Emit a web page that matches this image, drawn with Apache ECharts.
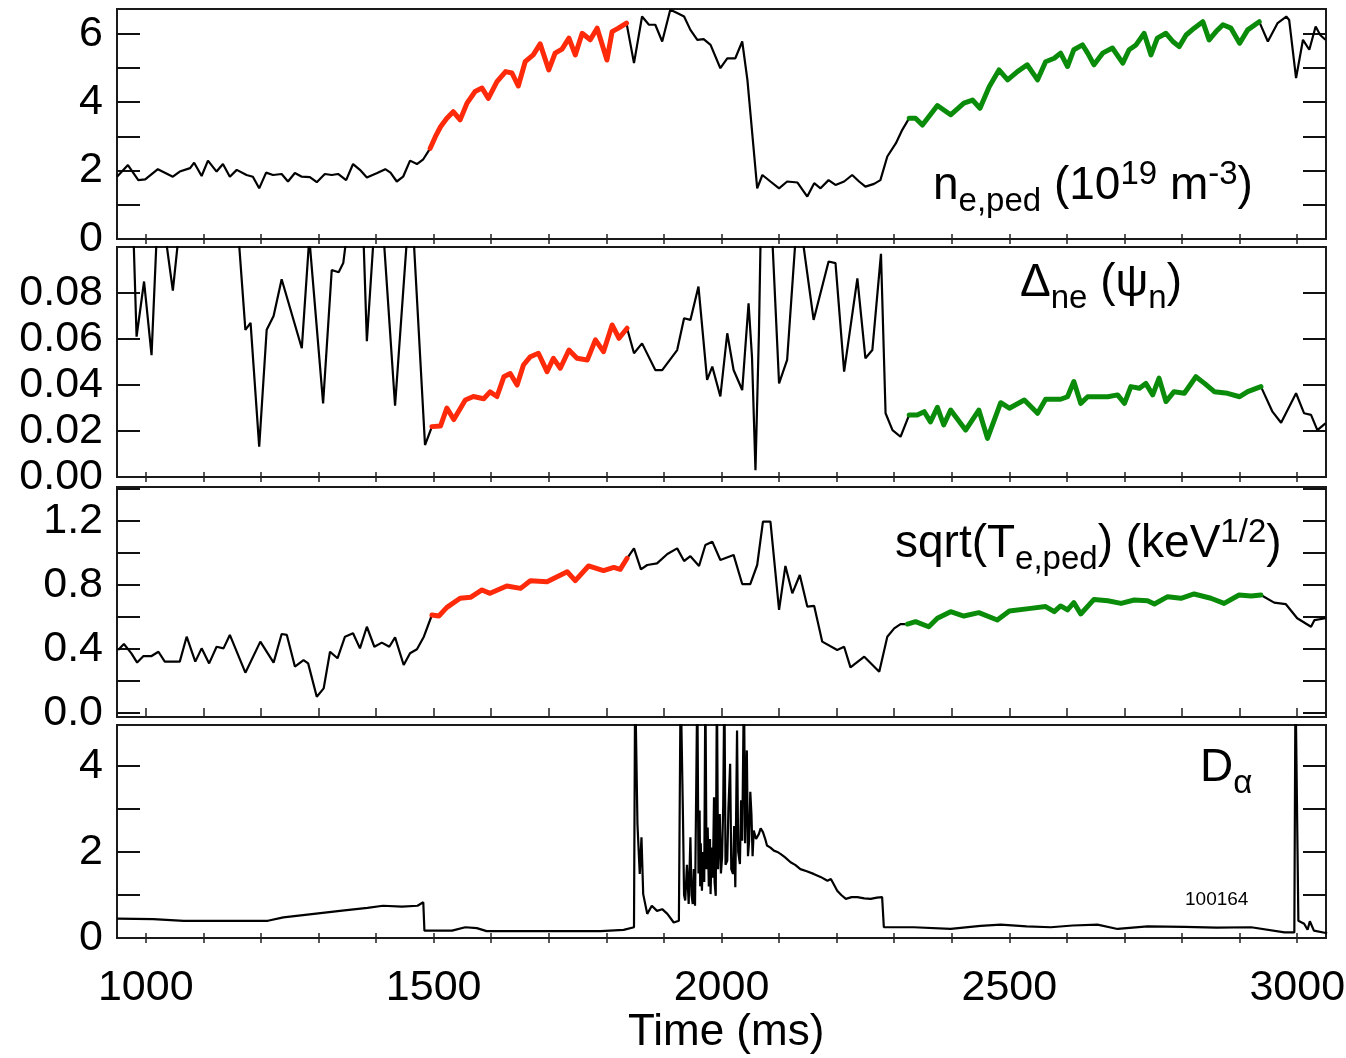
<!DOCTYPE html>
<html><head><meta charset="utf-8">
<script src="https://cdn.jsdelivr.net/npm/echarts@6/dist/echarts.min.js"></script>
<style>html,body{margin:0;padding:0;background:#fff}#c{width:1346px;height:1058px}</style>
</head><body><div id="c"></div>
<script>
// ---------- DATA ----------
// Panel 1: n_e,ped (10^19 m^-3)
const neT = [950,969,987,999,1021,1047,1059,1077,1084,1097,1108,1123,1134,1146,1158,1175,1186,1197,1209,1221,1236,1247,1259,1271,1285,1297,1311,1323,1334,1348,1360,1372,1384,1401,1416,1425,1436,1447,1459,1471,1482,
1494,1503,1512,1523,1534,1546,1558,1572,1584,1595,1610,1625,1636,1647,1659,1673,1685,1700,1711,1723,1735,1746,1758,1772,1784,1801,1810,1821,1835,
1848,1862,1874,1885,1897,1911,1923,1935,1946,1958,1969,1981,1998,2010,2024,2036,2045,2056,2062,2071,2085,2100,2114,2132,2149,2161,2172,2186,2198,2213,2227,2239,2250,2265,2276,2288,2303,2314,
2326,2337,2349,2375,2398,2421,2436,2449,2465,2482,2497,2514,2531,2549,2563,2578,2589,2601,2612,2627,2636,2647,2662,2679,2697,2708,2720,2734,2746,2757,2772,2784,2795,2807,2821,2836,2847,2859,2871,2885,2900,2914,2934,
2949,2966,2981,2986,2998,3010,3021,3032,3040,3049];
const neV = [1.82,2.16,1.72,1.74,2.04,1.82,1.97,2.07,2.23,1.84,2.29,1.97,2.19,1.82,2.02,1.87,1.82,1.48,1.94,1.87,1.90,1.68,1.93,1.82,1.81,1.66,1.90,1.87,1.90,1.72,2.19,2.02,1.80,1.92,2.04,1.94,1.68,1.82,2.29,2.19,2.33,
2.65,2.99,3.28,3.53,3.72,3.48,3.97,4.31,4.41,4.11,4.60,4.89,4.85,4.47,5.18,5.38,5.70,4.94,5.43,5.55,5.87,5.38,6.01,5.82,6.16,5.23,6.06,6.16,6.31,
5.14,6.50,6.26,6.26,5.77,6.70,6.60,6.50,6.11,5.82,5.84,5.67,4.99,5.28,5.28,5.77,4.65,2.60,1.48,1.87,1.68,1.48,1.68,1.65,1.24,1.63,1.48,1.72,1.58,1.68,1.87,1.68,1.53,1.61,1.72,2.41,2.80,3.19,
3.53,3.53,3.33,3.90,3.63,3.97,4.06,3.82,4.45,4.94,4.65,4.89,5.09,4.65,5.18,5.28,5.43,5.04,5.53,5.67,5.43,5.09,5.43,5.58,5.14,5.53,5.67,6.01,5.38,5.87,6.01,5.77,5.62,5.96,6.16,6.35,5.82,6.06,6.26,6.16,5.72,6.11,6.35,
5.77,6.31,6.50,6.40,4.70,5.82,5.53,6.21,5.96,5.82];

// Panel 2: Delta_ne (psi_n)  (values above 0.1 run off the top of the frame)
const dnT = [950,978,984,997,1010,1019,1034,1047,1057,1080,1120,1150,1161,1173,1182,1197,1210,1222,1236,1271,1284,1308,1323,1335,1343,1349,1365,1378,1384,1396,1405,1413,1433,1454,1460,1465,1485,
1497,1512,1523,1535,1555,1569,1587,1598,1610,1622,1633,1645,1656,1668,1682,1697,1708,1720,1735,1749,1767,1781,1795,1810,1822,1836,
1848,1862,1885,1897,1923,1935,1946,1960,1975,1984,1998,2010,2021,2036,2047,2053,2059,2065,2068,2078,2088,2100,2114,2129,2135,2140,2160,2186,2198,2213,2236,2250,2262,2277,2285,2297,2311,
2326,2340,2352,2363,2375,2386,2398,2424,2447,2462,2485,2500,2526,2549,2563,2589,2601,2612,2624,2636,2671,2688,2700,2711,2726,2737,2749,2760,2772,2786,2804,2824,2839,2856,2879,2900,2914,2937,
2957,2972,2998,3012,3024,3035,3049];
const dnV = [0.11,0.11,0.061,0.085,0.053,0.105,0.105,0.081,0.105,0.12,0.12,0.11,0.105,0.064,0.067,0.0132,0.064,0.070,0.086,0.056,0.104,0.032,0.090,0.089,0.093,0.105,0.12,0.105,0.059,0.105,0.12,0.105,0.031,0.105,0.12,0.105,0.0139,
0.0219,0.0222,0.030,0.025,0.0335,0.035,0.034,0.037,0.035,0.0436,0.045,0.040,0.0487,0.0523,0.0538,0.0458,0.0516,0.0473,0.0552,0.0516,0.0509,0.0596,0.0545,0.0661,0.0603,0.0647,
0.0538,0.0581,0.0465,0.0465,0.0552,0.069,0.0683,0.0828,0.0422,0.048,0.035,0.0625,0.0465,0.0378,0.0755,0.052,0.003,0.0625,0.105,0.12,0.105,0.0407,0.0509,0.105,0.12,0.105,0.0683,0.0937,0.093,0.0458,0.0864,0.0516,0.0552,0.097,0.0277,0.0204,0.0175,
0.027,0.027,0.0284,0.024,0.0303,0.0226,0.0291,0.0204,0.0291,0.0168,0.0323,0.0299,0.0335,0.0277,0.0338,0.0338,0.0349,0.0415,0.032,0.0349,0.0349,0.0357,0.032,0.0393,0.0386,0.0407,0.0357,0.043,0.0328,0.0371,0.0364,0.0436,0.0407,0.0371,0.0364,0.0349,0.0371,0.0393,
0.0284,0.0236,0.0364,0.0277,0.027,0.0204,0.0233];

// Panel 3: sqrt(T_e,ped) (keV^1/2)
const teT = [952,962,975,985,996,1010,1022,1033,1059,1071,1086,1097,1110,1123,1135,1146,1173,1199,1222,1236,1245,1259,1274,1282,1297,1309,1320,1333,1346,1360,1372,1384,1397,1410,1423,1433,1448,1459,1471,1483,
1497,1509,1523,1546,1564,1584,1598,1627,1651,1668,1697,1732,1746,1769,1795,1813,1824,1836,
1848,1860,1871,1888,1906,1923,1935,1946,1961,1972,1984,1998,2021,2036,2050,2062,2072,2085,2100,2111,2123,2136,2149,2161,2175,2201,2213,2224,2248,2274,2288,2300,2311,
2323,2337,2360,2375,2398,2421,2447,2479,2500,2537,2563,2578,2589,2601,2612,2624,2647,2671,2694,2717,2740,2752,2775,2798,2821,2850,2873,2899,2920,2937,
2960,2980,3000,3024,3030,3049];
const teV = [0.394,0.431,0.373,0.315,0.356,0.356,0.383,0.321,0.321,0.477,0.321,0.404,0.31,0.414,0.404,0.488,0.252,0.446,0.315,0.494,0.488,0.29,0.331,0.31,0.102,0.154,0.383,0.342,0.477,0.498,0.404,0.539,0.414,0.44,0.414,0.473,0.30,0.373,0.398,0.477,
0.6125,0.606,0.66,0.717,0.723,0.769,0.748,0.794,0.779,0.827,0.821,0.883,0.827,0.919,0.89,0.91,0.898,0.967,
1.029,0.898,0.925,0.935,0.994,1.029,0.95,0.98,0.919,1.05,1.071,0.956,0.988,0.806,0.806,0.925,1.196,1.196,0.644,0.919,0.748,0.8625,0.665,0.669,0.446,0.394,0.414,0.285,0.352,0.258,0.477,0.529,0.556,
0.556,0.571,0.539,0.592,0.633,0.606,0.627,0.581,0.6375,0.654,0.665,0.633,0.669,0.644,0.69,0.619,0.71,0.702,0.685,0.706,0.702,0.681,0.727,0.717,0.744,0.717,0.685,0.7375,0.731,0.7375,
0.69,0.681,0.592,0.539,0.581,0.592];

// Panel 4: D_alpha (spikes above the frame are clipped)
const daT = [950,1013,1066,1212,1239,1292,1345,1385,1412,1445,1472,1482,1484,1532,1555,1575,1592,1790,1830,1848,1850,1852,1854,1858,1861,1864,1871,1879,1888,1897,1906,1917,1926,1929,1931,
1933,1935,1937,1940,1943,1946,1948,1950,1952,1954,1958,1960,1962,1963,1964,1966,1968,1970,1972,1974,1976,1978,1980,1981,1983,1985,1987,1988,1990,1992,1994,1997,1999,2001,2003,2005,2007,2010,2012,2015,2017,2020,2022,2024,2027,2029,2032,2034,2036,2039,2041,2044,2046,2048,2050,2052,2054,2056,2060,2065,2068,2072,2076,2079,2085,2091,2097,2103,2110,2120,2128,2137,2148,2160,2172,2184,2190,2195,2201,2208,2216,2226,2236,2248,2259,2270,2279,
2282,2334,2398,2450,2485,2530,2572,2610,2653,2688,2740,2804,2860,2920,2978,2995,2997,2999,3002,3012,3018,3022,3029,3052];
const daV = [0.45,0.44,0.40,0.40,0.48,0.56,0.64,0.70,0.75,0.73,0.75,0.83,0.17,0.17,0.25,0.23,0.16,0.16,0.19,0.25,6,6,2.65,1.49,2.34,1.02,0.56,0.75,0.63,0.67,0.56,0.36,0.40,6,6,
2.88,1.0,0.87,1.7,0.79,2.34,1.0,0.79,1.6,0.75,6,1.5,2.96,1.2,2.2,1.1,2.0,1.3,6,1.6,2.57,1.2,2.3,1.02,2.1,1.4,3.27,1.3,0.98,6,1.6,2.88,1.5,1.88,3.1,6,1.7,1.80,3.0,4.05,1.6,1.49,2.6,1.18,4.82,2.0,1.72,3.2,2.26,6,2.2,4.36,1.9,2.26,3.4,2.88,1.9,2.50,2.3,2.42,2.55,2.46,2.3,2.15,2.1,2.03,2.0,1.95,1.88,1.76,1.70,1.60,1.55,1.49,1.42,1.33,1.37,1.25,1.10,1.0,0.91,0.95,0.95,0.92,0.91,0.94,0.95,
0.25,0.25,0.21,0.28,0.31,0.27,0.25,0.29,0.31,0.21,0.27,0.26,0.24,0.25,0.13,0.13,6,6,0.40,0.33,0.19,0.39,0.17,0.11];

// Highlighted windows (ms): red and green stretches of panels 1-3
const redWin = [[1494,1835],[1497,1836],[1497,1836]];
const greenWin = [[2326,2934],[2326,2937],[2323,2937]];

// Axis ticks and labels
const xTicks = [1000,1100,1200,1300,1400,1500,1600,1700,1800,1900,2000,2100,2200,2300,2400,2500,2600,2700,2800,2900,3000];
const xLabels = [1000,1500,2000,2500,3000];
const yTicks = [[1,2,3,4,5,6],[0.02,0.04,0.06,0.08],[0,0.2,0.4,0.6,0.8,1.0,1.2,1.4],[1,2,3,4]];
const yLabels = [[0,2,4,6],[0,0.02,0.04,0.06,0.08],[0,0.4,0.8,1.2],[0,2,4]];
const yDigits = [0,2,1,0];
const yMin = [0,0,-0.025,0];
const yMax = [6.72,0.1,1.4125,4.95];

// ---------- CHART ----------
const FONT = '"Liberation Sans", Arial, Helvetica, sans-serif';
const RED = '#ff2a0a', GREEN = '#0a8c0a';
const gridPos = [
  {left:117, top:9, width:1209, height:230},
  {left:117, top:247, width:1209, height:230},
  {left:117, top:487, width:1209, height:230},
  {left:117, top:725, width:1209, height:213}
];
const zip = (t, v) => t.map((x, i) => [x, v[i]]);
const within = (t, v, w) => zip(t, v).filter(p => p[0] >= w[0] && p[0] <= w[1]);
const panels = [[neT, neV], [dnT, dnV], [teT, teV], [daT, daV]];

const grid = [], xAxis = [], yAxis = [], series = [];
gridPos.forEach((g, i) => {
  grid.push(Object.assign({show: true, borderColor: '#1a1a1a', borderWidth: 2, backgroundColor: '#fff', containLabel: false, outerBoundsMode: 'none'}, g));
  const last = i === 3;
  xAxis.push({
    type: 'value', gridIndex: i, min: 950, max: 3050, position: 'bottom',
    axisLine: {show: false}, splitLine: {show: false},
    axisTick: {show: true, inside: true, length: 5, customValues: xTicks, lineStyle: {color: '#222', width: 1.5}},
    axisLabel: {show: last, customValues: xLabels, fontSize: 43, fontFamily: FONT, color: '#000', margin: 29, formatter: v => String(v)}
  });
  xAxis.push({
    type: 'value', gridIndex: i, min: 950, max: 3050, position: 'top',
    axisLine: {show: false}, splitLine: {show: false},
    axisTick: {show: true, inside: true, length: 5, customValues: xTicks, lineStyle: {color: '#222', width: 1.5}},
    axisLabel: {show: false}
  });
  const d = yDigits[i];
  yAxis.push({
    type: 'value', gridIndex: i, min: yMin[i], max: yMax[i], position: 'left',
    axisLine: {show: false}, splitLine: {show: false},
    axisTick: {show: true, inside: true, length: 23, customValues: yTicks[i], lineStyle: {color: '#111', width: 2}},
    axisLabel: {show: true, customValues: yLabels[i], fontSize: 43, fontFamily: FONT, color: '#000', margin: 14,
      padding: [0, 0, 8, 0], formatter: v => Number(v).toFixed(d)}
  });
  yAxis.push({
    type: 'value', gridIndex: i, min: yMin[i], max: yMax[i], position: 'right',
    axisLine: {show: false}, splitLine: {show: false},
    axisTick: {show: true, inside: true, length: 23, customValues: yTicks[i], lineStyle: {color: '#111', width: 2}},
    axisLabel: {show: false}
  });
  const [t, v] = panels[i];
  series.push({type: 'line', xAxisIndex: 2*i, yAxisIndex: 2*i, data: zip(t, v), showSymbol: false, symbol: 'none',
    lineStyle: {color: '#000', width: 2.2}, z: 2, animation: false, clip: true});
  if (i < 3) {
    series.push({type: 'line', xAxisIndex: 2*i, yAxisIndex: 2*i, data: within(t, v, redWin[i]), showSymbol: false, symbol: 'none',
      lineStyle: {color: RED, width: 5, join: 'round', cap: 'round'}, z: 3, animation: false});
    series.push({type: 'line', xAxisIndex: 2*i, yAxisIndex: 2*i, data: within(t, v, greenWin[i]), showSymbol: false, symbol: 'none',
      lineStyle: {color: GREEN, width: 5, join: 'round', cap: 'round'}, z: 3, animation: false});
  }
});

const M = 46, S = 33, LH = 64;
const rich = {
  m: {fontSize: M, fontFamily: FONT, lineHeight: LH, verticalAlign: 'middle', fill: '#000'},
  s: {fontSize: S, fontFamily: FONT, lineHeight: LH, verticalAlign: 'bottom', fill: '#000'},
  p: {fontSize: S, fontFamily: FONT, lineHeight: LH, verticalAlign: 'top', padding: [4, 0, 0, 0], fill: '#000'}
};
const lbl = (x, y, text) => ({type: 'text', left: x, top: y, z: 100, style: {text, rich, fill: '#000'}});

const option = {
  animation: false,
  backgroundColor: '#fff',
  grid, xAxis, yAxis, series,
  graphic: [
    lbl(933, 154, '{m|n}{s|e,ped}{m| (10}{p|19}{m| m}{p|-3}{m|)}'),
    lbl(1020, 260, '{m|Δ}{s|ne}{m| (ψ}{s|n}{m|)}'),
    lbl(895, 512, '{m|sqrt(T}{s|e,ped}{m|) (keV}{p|1/2}{m|)}'),
    lbl(1200, 745, '{m|D}{s|α}'),
    {type: 'text', left: 1185, top: 890, z: 100, style: {text: '100164', fontSize: 19, fontFamily: FONT, fill: '#000'}},
    {type: 'text', left: 628, top: 1011, z: 100, style: {text: 'Time (ms)', fontSize: 44, fontFamily: FONT, fill: '#000'}}
  ]
};
const chart = echarts.init(document.getElementById('c'), null, {renderer: 'canvas'});
chart.setOption(option);
</script>
</body></html>
